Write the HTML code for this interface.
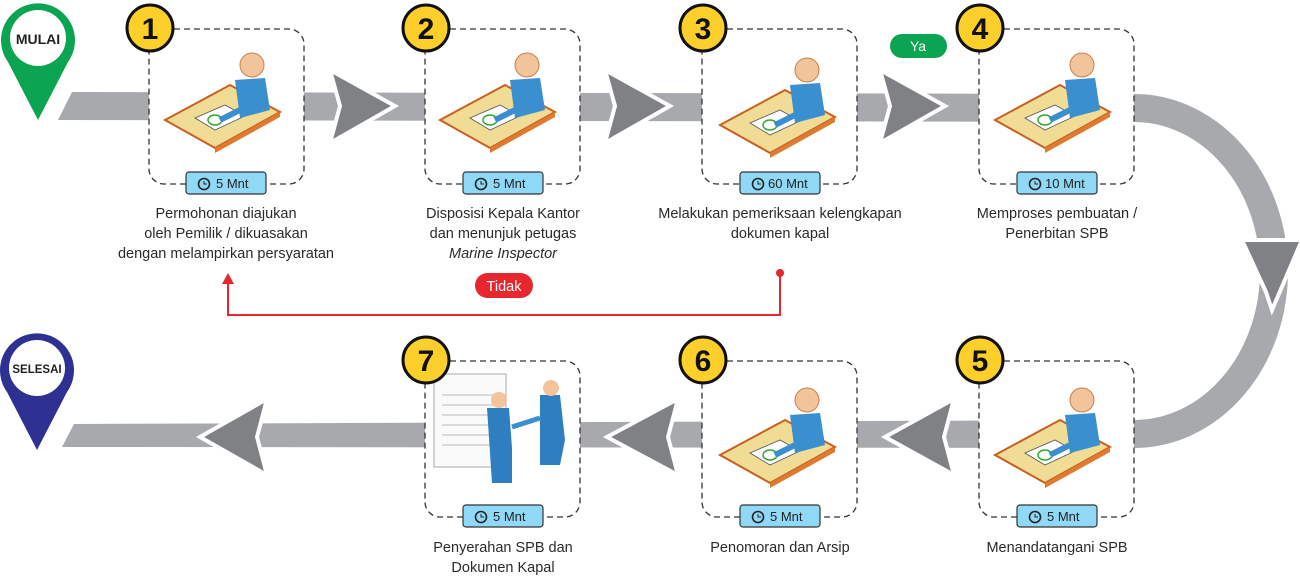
<!DOCTYPE html>
<html><head><meta charset="utf-8"><style>
body{margin:0;background:#fff;}
svg{display:block;font-family:"Liberation Sans",sans-serif;}
.lbl{font-size:14.5px;fill:#2a2a2a;text-anchor:middle;}
.bd{font-size:13px;fill:#222;}
.num{font-size:30px;font-weight:bold;fill:#111;text-anchor:middle;}
</style></head><body>
<svg width="1300" height="577" viewBox="0 0 1300 577">
<defs>
<g id="desk">
 <polygon points="-55,20 10,-15 60,12 -5,48" fill="#f0dc94" stroke="#c8601e" stroke-width="2"/>
 <polygon points="-5,48 60,12 60,17 -5,53" fill="#e07a30"/>
 <polygon points="-25,18 5,5 25,16 -5,30" fill="#fff" stroke="#555" stroke-width="0.8"/>
 <ellipse cx="-5" cy="20" rx="7" ry="5" fill="none" stroke="#3a3" stroke-width="1.5"/>
 <path d="M15,-20 L45,-22 L50,10 L20,18 Z" fill="#3a8fcf"/>
 <circle cx="32" cy="-35" r="12" fill="#f2c49b" stroke="#c8804a"/>
 <path d="M20,10 L0,20" stroke="#3a8fcf" stroke-width="6"/>
</g>
<g id="badge">
 <rect x="-40" y="-11" width="80" height="22" rx="3" fill="#8fd9f6" stroke="#333" stroke-width="1.2"/>
 <circle cx="-22" cy="1" r="5.5" fill="none" stroke="#222" stroke-width="1.6"/>
 <path d="M-22,-2 v3 h3" stroke="#222" stroke-width="1" fill="none"/>
</g>
</defs>

<polygon points="58,120 72,92 1134,94 1134,122" fill="#a7a9ac"/>
<path d="M1134,108 A140,163 0 0 1 1134,434" fill="none" stroke="#a7a9ac" stroke-width="28"/>
<polygon points="62,447 74,424 1134,420 1134,448" fill="#a7a9ac"/>
<g fill="#808184" stroke="#fff" stroke-width="4" stroke-linejoin="miter">
<polygon points="330,70 395,106 330,143 340,106"/>
<polygon points="605,70 670,106 605,143 615,106"/>
<polygon points="880,70 945,106 880,143 890,106"/>
<polygon points="1242,240 1302,240 1272,310 1266,292"/>
<polygon points="200,437 267,399 257,437 267,475"/>
<polygon points="607,437 678,399 668,437 678,475"/>
<polygon points="885,437 954,399 944,437 954,475"/>
</g>

<path d="M38,120 L8,62 A37,37 0 1 1 68,62 Z" fill="#0aa452"/>
<circle cx="38" cy="38" r="28" fill="#fff"/>
<text x="38" y="44" text-anchor="middle" font-size="14" font-weight="bold" fill="#222">MULAI</text>
<path d="M37,450 L7,392 A37,37 0 1 1 67,392 Z" fill="#2e3192"/>
<circle cx="37" cy="368" r="28" fill="#fff"/>
<text x="37" y="373" text-anchor="middle" font-size="11.5" font-weight="bold" fill="#222">SELESAI</text>

<g fill="#fff" stroke="#333" stroke-width="1.3" stroke-dasharray="6,4">
<rect x="149" y="29" width="155" height="155" rx="15"/>
<rect x="425" y="29" width="155" height="155" rx="15"/>
<rect x="702" y="29" width="155" height="155" rx="15"/>
<rect x="979" y="29" width="155" height="155" rx="15"/>
<rect x="425" y="361" width="155" height="156" rx="15"/>
<rect x="702" y="361" width="155" height="156" rx="15"/>
<rect x="979" y="361" width="155" height="156" rx="15"/>
</g>
<use href="#desk" x="220" y="100"/>
<use href="#desk" x="495" y="100"/>
<use href="#desk" x="775" y="105"/>
<use href="#desk" x="1050" y="100"/>
<use href="#desk" x="775" y="435"/>
<use href="#desk" x="1050" y="435"/>
<rect x="434" y="374" width="72" height="93" fill="#fafafa" stroke="#aaa"/>
<g stroke="#bbb" stroke-width="1"><line x1="442" y1="395" x2="498" y2="395"/><line x1="442" y1="405" x2="498" y2="405"/><line x1="442" y1="415" x2="498" y2="415"/><line x1="442" y1="425" x2="498" y2="425"/><line x1="442" y1="435" x2="498" y2="435"/><line x1="442" y1="445" x2="498" y2="445"/></g>
<path d="M487,408 h22 l3,40 v35 h-20 z" fill="#2f7fc0"/><circle cx="499" cy="400" r="8" fill="#f2c49b"/>
<path d="M540,395 h20 l5,45 -5,25 h-20 z" fill="#2f7fc0"/><circle cx="551" cy="388" r="8" fill="#f2c49b"/>
<path d="M512,427 L540,418" stroke="#3a8fcf" stroke-width="5"/>

<g fill="#fdcf2a" stroke="#111" stroke-width="3">
<circle cx="150" cy="28" r="23"/><circle cx="426" cy="28" r="23"/><circle cx="703" cy="28" r="23"/><circle cx="980" cy="28" r="23"/>
<circle cx="426" cy="360" r="23"/><circle cx="703" cy="360" r="23"/><circle cx="980" cy="360" r="23"/>
</g>
<g class="num">
<text x="150" y="39">1</text><text x="426" y="39">2</text><text x="703" y="39">3</text><text x="980" y="39">4</text>
<text x="426" y="371">7</text><text x="703" y="371">6</text><text x="980" y="371">5</text>
</g>

<use href="#badge" x="226" y="183"/><text class="bd" x="216" y="188">5 Mnt</text>
<use href="#badge" x="503" y="183"/><text class="bd" x="493" y="188">5 Mnt</text>
<use href="#badge" x="780" y="183"/><text class="bd" x="768" y="188">60 Mnt</text>
<use href="#badge" x="1057" y="183"/><text class="bd" x="1045" y="188">10 Mnt</text>
<use href="#badge" x="503" y="516"/><text class="bd" x="493" y="521">5 Mnt</text>
<use href="#badge" x="780" y="516"/><text class="bd" x="770" y="521">5 Mnt</text>
<use href="#badge" x="1057" y="516"/><text class="bd" x="1047" y="521">5 Mnt</text>

<g class="lbl">
<text x="226" y="218">Permohonan diajukan</text>
<text x="226" y="238">oleh Pemilik / dikuasakan</text>
<text x="226" y="258">dengan melampirkan persyaratan</text>
<text x="503" y="218">Disposisi Kepala Kantor</text>
<text x="503" y="238">dan menunjuk petugas</text>
<text x="503" y="258" font-style="italic">Marine Inspector</text>
<text x="780" y="218">Melakukan pemeriksaan kelengkapan</text>
<text x="780" y="238">dokumen kapal</text>
<text x="1057" y="218">Memproses pembuatan /</text>
<text x="1057" y="238">Penerbitan SPB</text>
<text x="503" y="552">Penyerahan SPB dan</text>
<text x="503" y="572">Dokumen Kapal</text>
<text x="780" y="552">Penomoran dan Arsip</text>
<text x="1057" y="552">Menandatangani SPB</text>
</g>

<rect x="890" y="34" width="57" height="24" rx="12" fill="#0aa452"/>
<text x="918" y="51" text-anchor="middle" font-size="14" fill="#fff">Ya</text>
<polyline points="780,273 780,315 228,315 228,282" fill="none" stroke="#e8262e" stroke-width="2"/>
<circle cx="780" cy="273" r="4" fill="#e8262e"/>
<polygon points="222,284 228,273 234,284" fill="#e8262e"/>
<rect x="475" y="273" width="58" height="25" rx="12.5" fill="#e8262e"/>
<text x="504" y="291" text-anchor="middle" font-size="14.5" fill="#fff">Tidak</text>
</svg>
</body></html>
